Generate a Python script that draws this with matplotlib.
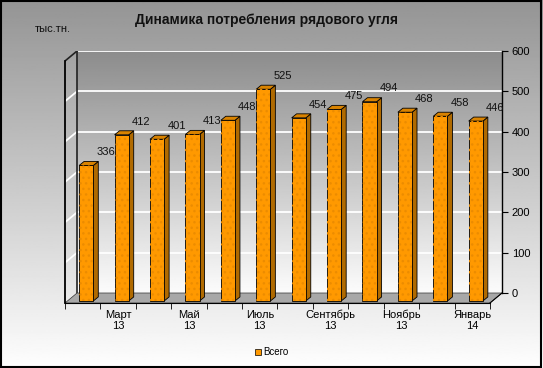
import matplotlib.pyplot as plt
import numpy as np
from matplotlib.patches import Polygon, Patch

plt.rcParams['font.family'] = ['Liberation Sans', 'DejaVu Sans']

# Данные
months = ['Февраль\n13', 'Март\n13', 'Апрель\n13', 'Май\n13', 'Июнь\n13', 'Июль\n13',
          'Август\n13', 'Сентябрь\n13', 'Октябрь\n13', 'Ноябрь\n13', 'Декабрь\n13', 'Январь\n14']
values = [336, 412, 401, 413, 448, 525, 454, 475, 494, 468, 458, 446]
y_ticks = [0, 100, 200, 300, 400, 500, 600]

n = len(values)
x = np.arange(n)
dx, dy = 0.34, 24.8        # глубина "3D" стенки
bdx, bdy = 0.14, 10        # глубина столбика
off_x, off_y = 0.1, 5      # столбики чуть вглубь
w = 0.4
ymax = 600

fig = plt.figure(figsize=(5.43, 3.68), dpi=100)

# Фон рисунка - градиент
bg = fig.add_axes([0, 0, 1, 1])
grad = np.linspace(0, 1, 256).reshape(-1, 1)
bg.imshow(grad, aspect='auto', cmap='gray', vmin=-1.4, vmax=1.01, extent=(0, 1, 0, 1), origin='upper')
bg.set_xlim(0, 1)
bg.set_ylim(0, 1)
bg.axis('off')
bg.add_patch(plt.Rectangle((0.002, 0.003), 0.995, 0.994, fill=False, edgecolor='black', lw=1.5))

ax = fig.add_axes([65 / 543, 65 / 368, 437 / 543, 252 / 368])
ax.patch.set_alpha(0)
x0, x1 = -0.5, n - 0.5

# Задняя стенка
ax.imshow(grad, aspect='auto', cmap='gray', vmin=-1.25, vmax=1.03, origin='upper',
          extent=(x0 + dx, x1 + dx, dy, ymax + dy), zorder=0)
ax.set_xlim(x0, x1 + dx)
ax.set_ylim(0, ymax + dy)

# Сетка
for t in y_ticks[1:]:
    ax.plot([x0 + dx, x1 + dx], [t + dy, t + dy], color='white', lw=1.3, zorder=1)
    if t < ymax:
        ax.plot([x0, x0 + dx], [t, t + dy], color='white', lw=1.3, zorder=1)
ax.plot([x0, x0 + dx], [ymax, ymax + dy], color='#222222', lw=1.2, zorder=2)
ax.plot([x0 + dx, x0 + dx], [dy, ymax + dy], color='#222222', lw=1.2, zorder=2)

# Пол
ax.fill([x0, x1, x1 + dx, x0 + dx], [0, 0, dy, dy], facecolor='#a8a8a8', edgecolor='#333333',
        lw=0.5, zorder=2)

# Столбики
xb = x + off_x
ax.bar(xb, values, width=w, bottom=off_y, color='#FF9900', edgecolor='black', lw=0.6, zorder=4)
ax.bar(xb, values, width=w, bottom=off_y, color='none', edgecolor='#EC8C00', hatch='...', lw=0, zorder=4)
for xi, v in zip(xb, values):
    top = v + off_y
    side = Polygon([(xi + w / 2, off_y), (xi + w / 2 + bdx, off_y + bdy),
                    (xi + w / 2 + bdx, top + bdy), (xi + w / 2, top)],
                   closed=True, facecolor='#B06A00', edgecolor='black', lw=0.6, zorder=3)
    cap = Polygon([(xi - w / 2, top), (xi + w / 2, top), (xi + w / 2 + bdx, top + bdy),
                   (xi - w / 2 + bdx, top + bdy)],
                  closed=True, facecolor='#D98300', edgecolor='black', lw=0.6, zorder=3)
    ax.add_patch(side)
    ax.add_patch(cap)

# Подписи значений
for xi, v in zip(x, values):
    ax.text(xi + 0.65, v + 38, str(v), ha='center', va='center', fontsize=8, color='#111111', zorder=5)

# Оси
ax.spines['top'].set_visible(False)
ax.spines['left'].set_bounds(0, ymax)
ax.spines['left'].set_linewidth(1.3)
ax.spines['bottom'].set_bounds(x0, x1)
ax.spines['bottom'].set_linewidth(0.8)
ax.spines['right'].set_bounds(dy, ymax + dy)
ax.spines['right'].set_linewidth(1.0)

ax.yaxis.tick_right()
ax.set_yticks([t + dy for t in y_ticks])
ax.set_yticklabels([str(t) for t in y_ticks], fontsize=8)
ax.tick_params(axis='y', direction='out', length=4, pad=3)
ax.plot([x1, x1 + dx], [0, dy], color='black', lw=0.8, zorder=2)

ax.set_xticks(x)
ax.set_xticklabels([m if i % 2 == 1 else '' for i, m in enumerate(months)], fontsize=8, linespacing=1.1)
ax.set_xticks(np.arange(x0, x1 + 0.01, 1), minor=True)
ax.tick_params(axis='x', which='major', length=0, pad=5)
ax.tick_params(axis='x', which='minor', direction='out', length=4)

fig.text(0.49, 0.945, 'Динамика потребления рядового угля', ha='center', va='center',
         fontsize=10, fontweight='bold', color='#111111')
fig.text(0.064, 0.921, 'тыс.тн.', ha='left', va='center', fontsize=8, color='#111111')

fig.legend(handles=[Patch(facecolor='#FF9900', edgecolor='black', lw=0.5, label='Всего')],
           loc='center', bbox_to_anchor=(0.5, 0.043), frameon=False, fontsize=7,
           handlelength=0.6, handleheight=0.6, handletextpad=0.2)

fig.savefig('out.png', dpi=100)
